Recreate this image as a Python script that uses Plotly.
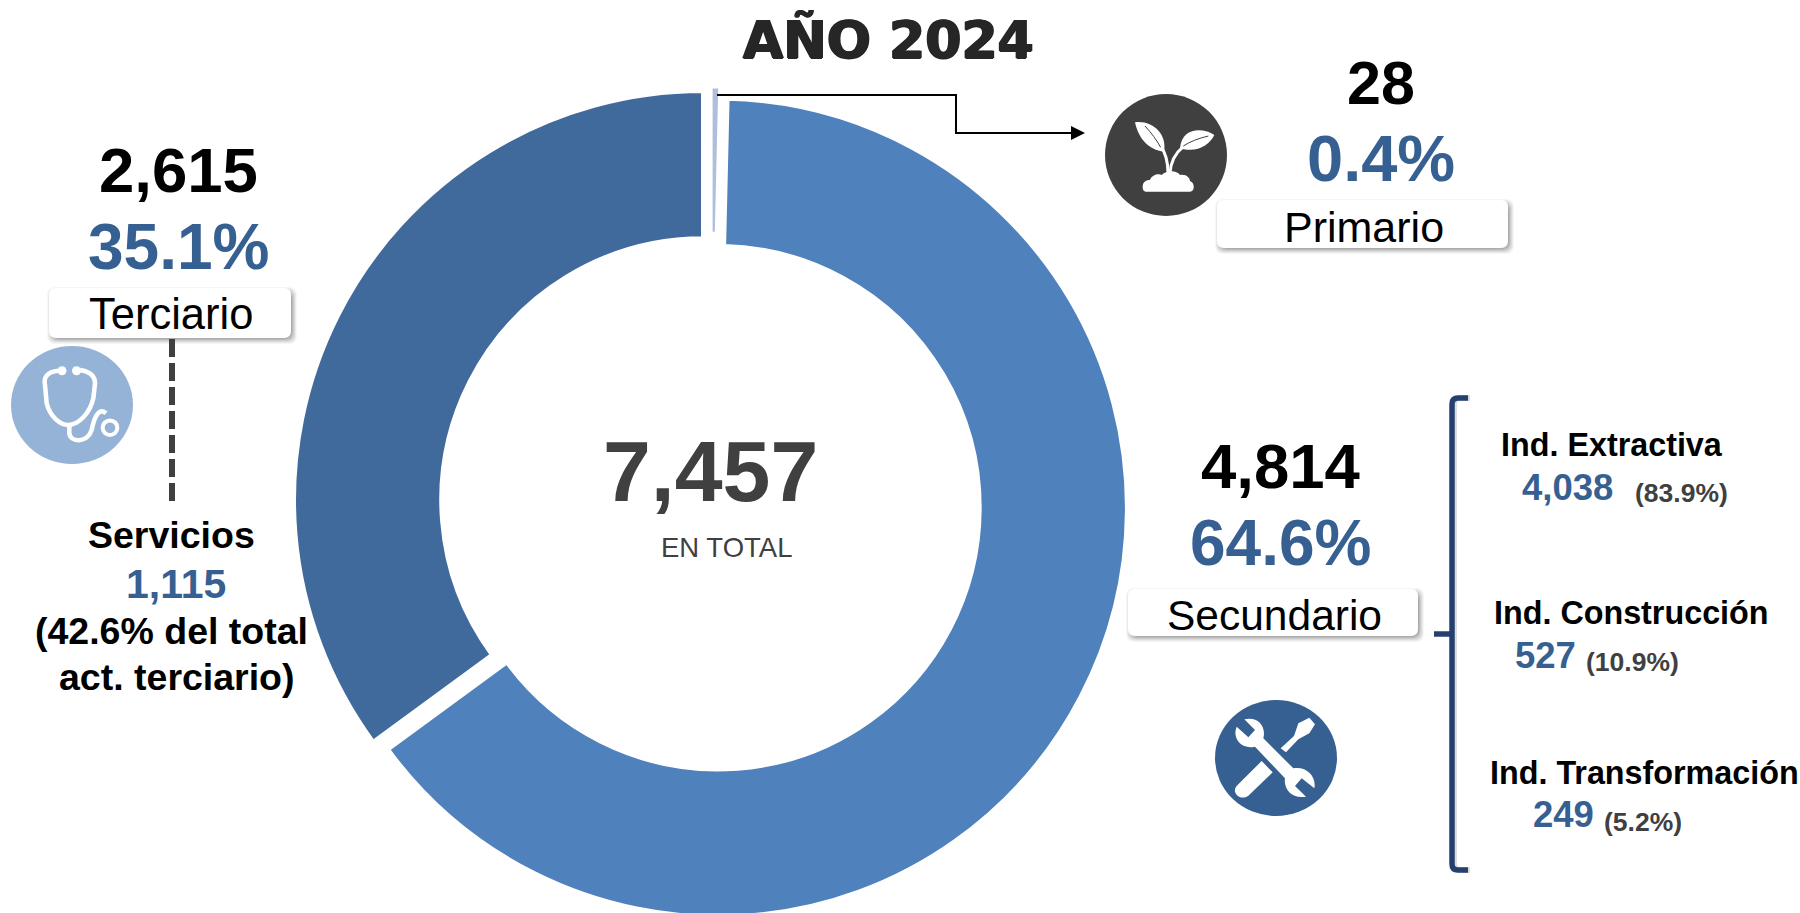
import re
import plotly.graph_objects as go

W, H = 1800, 922

sectors = ["Primario", "Secundario", "Terciario"]
sector_values = [28, 4814, 2615]
sector_pct = ["0.4%", "64.6%", "35.1%"]
sector_colors = ["#AFBEDC", "#4F81BD", "#416A9C"]
total_text = "7,457"
total_caption = "EN TOTAL"
title_text = "AÑO 2024"
sub_names = ["Ind. Extractiva", "Ind. Construcción", "Ind. Transformación"]
sub_values = ["4,038", "527", "249"]
sub_pct = ["(83.9%)", "(10.9%)", "(5.2%)"]
serv_name = "Servicios"
serv_value = "1,115"
serv_note = ["(42.6% del total", "act. terciario)"]

BLUE = "#376092"
DARK = "#404040"
FONT = "Liberation Sans"

# pie placement
cx, cy, R, hole, pull = 710.5, 503.8, 409, 0.64, 0.0205
half = R * (1 + pull)

fig = go.Figure(go.Pie(
    labels=sectors, values=sector_values, sort=False, direction="clockwise", rotation=0,
    hole=hole, pull=pull, textinfo="none", hoverinfo="label+value+percent", showlegend=False,
    marker=dict(colors=sector_colors, line=dict(color="white", width=4)),
    domain=dict(x=[(cx - half) / W, (cx + half) / W], y=[1 - (cy + half) / H, 1 - (cy - half) / H]),
))


def px(x):
    return x / W


def py(y):
    return 1 - y / H


def conv(path, fx, fy):
    def rep(m):
        return f"{px(fx(float(m.group(1)))):.5f},{py(fy(float(m.group(2)))):.5f}"
    return re.sub(r"(-?\d+\.?\d*),(-?\d+\.?\d*)", rep, path)


shapes = []
annos = []


def text(s, x, base, size, color="black", bold=True, family=FONT, shadow=None):
    font = dict(family=family, size=size, color=color)
    if shadow:
        font["shadow"] = shadow
    annos.append(dict(
        text=f"<b>{s}</b>" if bold else s, x=px(x), y=py(base - 0.36 * size), xref="paper", yref="paper",
        xanchor="center", yanchor="middle", showarrow=False, font=font,
    ))


def path(d, fill=None, line=None, lw=0, fx=lambda v: v, fy=lambda v: v):
    shapes.append(dict(
        type="path", path=conv(d, fx, fy), xref="paper", yref="paper", layer="above",
        fillcolor=fill if fill else "rgba(0,0,0,0)",
        line=dict(color=line if line else "rgba(0,0,0,0)", width=lw),
    ))


def ellipse(x, y, rx, ry, fill=None, line=None, lw=0):
    shapes.append(dict(
        type="circle", xref="paper", yref="paper", layer="above",
        x0=px(x - rx), x1=px(x + rx), y0=py(y + ry), y1=py(y - ry),
        fillcolor=fill if fill else "rgba(0,0,0,0)",
        line=dict(color=line if line else "rgba(0,0,0,0)", width=lw),
    ))


def rrect(x0, y0, x1, y1, r):
    return (f"M {x0+r},{y0} L {x1-r},{y0} Q {x1},{y0} {x1},{y0+r} L {x1},{y1-r} Q {x1},{y1} {x1-r},{y1} "
            f"L {x0+r},{y1} Q {x0},{y1} {x0},{y1-r} L {x0},{y0+r} Q {x0},{y0} {x0+r},{y0} Z")


def box(x0, y0, x1, y1):
    for g, a in [(4, 0.05), (3, 0.07), (2, 0.09), (1, 0.11), (0, 0.13), (-1, 0.15)]:
        path(rrect(x0 + 2 - g, y0 + 3 - g, x1 + 2 + g, y1 + 2 + g, 8), fill=f"rgba(80,80,80,{a})")
    path(rrect(x0, y0, x1, y1, 7), fill="white")


# title and centre
text(title_text, 888, 59, 52, color="#262626", family="DejaVu Sans",
     shadow="1px 0 0 #262626, -1px 0 0 #262626, 0 1px 0 #262626")
text(total_text, 710, 502, 86, color=DARK)
text(total_caption, 726, 557, 27.5, color=DARK, bold=False)

# connector from the primary slice
path("M 717,95 L 956,95 L 956,133 L 1072,133", line="black", lw=2)
path("M 1071,126 L 1085,133 L 1071,140 Z", fill="black")

# primary block
text(f"{sector_values[0]:,}", 1381, 105, 61)
text(sector_pct[0], 1381, 182, 65, color=BLUE)
box(1217, 200, 1508, 248)
text(sectors[0], 1364, 242, 43, bold=False)
ellipse(1166, 155, 61, 61, fill=DARK)
fx, fy = (lambda v: 1080 + v / 3), (lambda v: 70 + v / 3)
path("M 165,157 C 215,150 262,190 252,245 C 205,240 175,205 165,157 Z", fill="white", fx=fx, fy=fy)
path("M 403,195 C 370,172 305,170 300,235 C 350,250 388,225 403,195 Z", fill="white", fx=fx, fy=fy)
path("M 264,310 C 264,270 255,245 240,225", line="white", lw=3, fx=fx, fy=fy)
path("M 270,310 C 272,275 285,250 310,230", line="white", lw=3, fx=fx, fy=fy)
path("M 195,168 C 215,190 230,210 242,232", line=DARK, lw=1, fx=fx, fy=fy)
path("M 385,198 C 355,205 330,215 310,228", line=DARK, lw=1, fx=fx, fy=fy)
path("M 188,350 C 188,335 200,330 210,330 C 215,315 235,310 245,315 C 260,300 290,300 300,315 "
     "C 320,312 330,325 330,333 C 345,338 345,365 330,365 L 200,365 C 190,365 188,358 188,350 Z",
     fill="white", fx=fx, fy=fy)

# tertiary block
text(f"{sector_values[2]:,}", 178, 193, 63.5)
text(sector_pct[2], 178, 270, 64, color=BLUE)
box(49, 288, 291, 338)
text(sectors[2], 171, 330, 43.5, bold=False)
shapes.append(dict(type="line", xref="paper", yref="paper", layer="above", x0=px(172), x1=px(172),
                   y0=py(339), y1=py(501), line=dict(color=DARK, width=6, dash="18px,6px")))
text(serv_name, 171, 548, 37.5)
text(serv_value, 176, 599, 41, color=BLUE)
text(serv_note[0], 171, 644, 37.5)
text(serv_note[1], 177, 690, 37.5)
ellipse(72, 405, 61, 59, fill="#95B3D7")
fx, fy = (lambda v: v / 3), (lambda v: 270 + v / 3)
path("M 175,302 C 140,305 130,325 135,345 L 140,400 C 150,440 180,465 205,465 C 235,465 270,430 280,385 "
     "L 285,340 C 285,320 270,305 240,300", line="white", lw=4.5, fx=fx, fy=fy)
path("M 208,465 L 208,490 C 212,518 262,520 275,480 C 285,430 300,415 318,430", line="white", lw=4.5, fx=fx, fy=fy)
ellipse(110, 427.7, 7.3, 7.3, line="white", lw=4)
ellipse(62, 370.7, 4.5, 4.5, fill="white")
ellipse(76.5, 370.7, 4.5, 4.5, fill="white")

# secondary block
text(f"{sector_values[1]:,}", 1280, 489, 63.5)
text(sector_pct[1], 1280, 566, 64, color=BLUE)
box(1128, 589, 1418, 636)
text(sectors[1], 1274, 631, 42.5, bold=False)
ellipse(1276, 758, 61, 58, fill=BLUE)
fx, fy = (lambda v: 1120 + v / 3), (lambda v: 680 + v / 3)
path("M 373,118 L 405,150 L 385,172 L 350,140 C 335,175 365,210 405,200 L 495,295 C 490,325 515,358 558,350 "
     "L 525,318 L 545,295 L 583,325 C 590,290 560,258 520,265 L 430,175 C 440,135 410,108 373,118 Z",
     fill="white", fx=fx, fy=fy)
path("M 425,243 L 458,277 L 385,347 C 370,358 350,352 345,335 C 343,325 350,318 355,313 Z", fill="white", fx=fx, fy=fy)
path("M 482,205 L 522,168 L 535,130 L 568,113 L 585,133 L 568,160 L 535,178 L 498,217 Z", fill="white", fx=fx, fy=fy)

# bracket
BR = "#25406F"
brace = "M 1468,398 L 1458,398 Q 1452,398 1452,404 L 1452,864 Q 1452,870 1458,870 L 1468,870"
path(brace.replace("1468", "1470").replace("1452", "1454").replace("1458", "1460"), line="rgba(120,120,120,0.25)", lw=6)
path(brace, line=BR, lw=5.5)
path("M 1434,634 L 1452,634", line=BR, lw=5.5)

# secondary breakdown
name_x = [1612, 1631, 1644]
name_base = [457, 625, 785]
val_x = [1567, 1545, 1563]
val_base = [501, 669, 828]
pct_x = [1681, 1632, 1643]
pct_base = [503, 672, 832]
for i in range(3):
    text(sub_names[i], name_x[i], name_base[i], 32.3)
    text(sub_values[i], val_x[i], val_base[i], 36.5, color=BLUE)
    text(sub_pct[i], pct_x[i], pct_base[i], 26.5, color=DARK)

fig.update_layout(
    width=W, height=H, margin=dict(l=0, r=0, t=0, b=0), paper_bgcolor="white", plot_bgcolor="white",
    shapes=shapes, annotations=annos, showlegend=False,
)
fig.write_html(
    "out.html",
    config=dict(displayModeBar=False),
    post_script="document.body.style.margin='0';document.documentElement.style.overflow='hidden';document.body.style.overflow='hidden';",
)
